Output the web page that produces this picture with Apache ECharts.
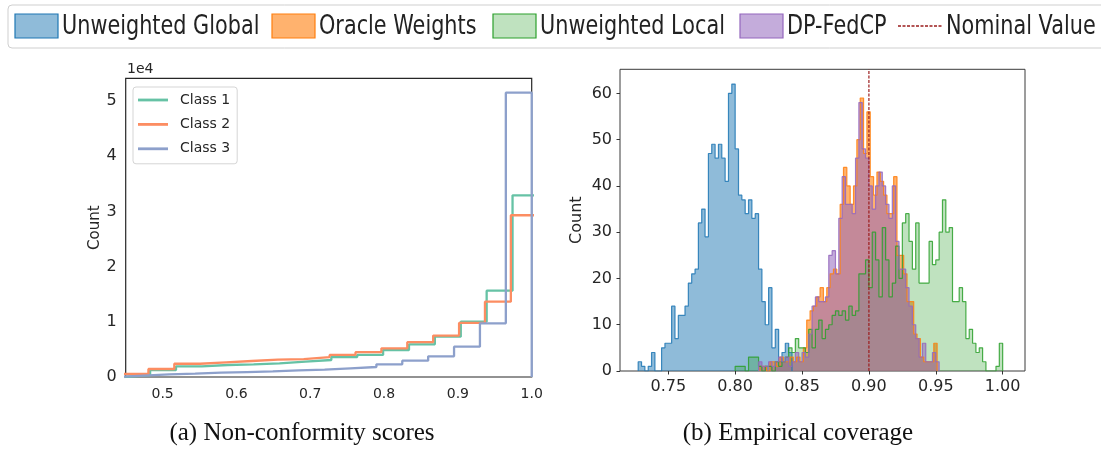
<!DOCTYPE html>
<html>
<head>
<meta charset="utf-8">
<script src="https://cdn.jsdelivr.net/npm/echarts@6/dist/echarts.min.js"></script>
<style>
html,body{margin:0;padding:0;background:#fff;}
#chart{width:1101px;height:457px;}
</style>
</head>
<body>
<div id="chart"></div>
<script>
// ---------- Panel (a): non-conformity scores (step histograms) ----------
const scoreBinWidth = 0.03507;
const class1Start = 0.4480;
const class2Start = 0.4457;
const class3Start = 0.4389;
const class1Counts = [360,1270,1930,2170,2300,2480,2780,3080,3620,3990,4890,5920,7300,10020,15640,32900];
const class2Counts = [540,1450,2400,2650,2900,3150,3250,3600,4000,4500,5200,6300,7500,9800,13650,29300];
const class3Counts = [240,480,600,780,900,1030,1200,1330,1570,1810,2300,2960,3740,5500,9720,51500];
const scoreTicks = [0.5,0.6,0.7,0.8,0.9,1.0];
const scoreCountTicks = [0,10000,20000,30000,40000,50000];
const classNames = ['Class 1','Class 2','Class 3'];

// ---------- Panel (b): empirical coverage (filled step histograms) ----------
const covBinWidth = 0.0025;
const globalStart = 0.7275;
const globalCounts = [2,1,0,1,4,0,0,5,6,6,14,7,12,12,14,19,21,22,32,35,29,47,49,46,49,46,41,60,62,48,38,37,34,37,33,34,22,15,10,18,5,9,2,4,6,4];
const oracleStart = 0.8185;
const oracleCounts = [1,1,0,2,2,1,3,2,2,3,2,3,2,5,11,13,14,16,18,15,18,21,22,21,36,44,40,36,40,50,59,47,56,42,38,43,41,38,34,34,42,25,25,21,15,15,8,7,3,2,2,2,6];
const localStart = 0.8000;
const localCounts = [1,1,1,0,3,3,3,1,0,1,1,0,2,1,2,3,5,4,7,5,
  5,4,9,5,9,11,7,9,10,12,
  13,12,13,11,14,12,13,21,21,24,
  18,30,24,16,31,24,16,19,27,20,
  32,34,28,22,32,19,19,19,28,23,
  24,30,37,30,31,15,15,18,15,7,
  9,6,4,5,2,0,0,0,1,6];
const dpStart = 0.8175;
const dpCounts = [2,1,1,2,1,2,3,2,3,1,2,4,2,4,3,8,14,16,15,15,16,25,26,21,33,42,36,36,34,46,58,48,46,40,35,40,43,40,36,33,40,28,22,22,18,14,10,7,3,6,2,2,4,2];
const nominalValue = 0.9;
const coverageTicks = [0.75,0.80,0.85,0.90,0.95,1.00];
const coverageCountTicks = [0,10,20,30,40,50,60];
const coverageNames = ['Unweighted Global','Oracle Weights','Unweighted Local','DP-FedCP','Nominal Value'];

// build step outline points from bin start, width and counts
function stepPoints(start, width, counts) {
  const pts = [[start, 0]];
  counts.forEach((c, i) => {
    const x0 = start + i * width;
    pts.push([x0, c], [x0 + width, c]);
  });
  pts.push([start + counts.length * width, 0]);
  return pts;
}

const FONT = 'DejaVu Sans';
const TXT = '#262626';
const setColors = ['#66c2a5','#fc8d62','#8da0cb'];
const tabColors = ['#1f77b4','#ff7f0e','#2ca02c','#9467bd'];
const fillAlpha = [0.5, 0.6, 0.3, 0.55];

const chart = echarts.init(document.getElementById('chart'), null, {renderer:'canvas'});

const leftSeries = [
  [class1Start, class1Counts],
  [class2Start, class2Counts],
  [class3Start, class3Counts]
].map((d, i) => ({
  name: classNames[i], type: 'line', xAxisIndex: 0, yAxisIndex: 0,
  data: stepPoints(d[0], scoreBinWidth, d[1]), symbol: 'none', clip: true,
  lineStyle: {color: setColors[i], width: 2.3}, itemStyle: {color: setColors[i]}
}));

const rightSeries = [
  [globalStart, globalCounts],
  [oracleStart, oracleCounts],
  [localStart, localCounts],
  [dpStart, dpCounts]
].map((d, i) => ({
  name: coverageNames[i], type: 'line', xAxisIndex: 1, yAxisIndex: 1,
  data: stepPoints(d[0], covBinWidth, d[1]), symbol: 'none', clip: true,
  lineStyle: {color: tabColors[i], width: 1.2, opacity: 0.85},
  areaStyle: {color: tabColors[i], opacity: fillAlpha[i]},
  itemStyle: {color: tabColors[i]}
}));

const nominalSeries = {
  name: 'Nominal Value', type: 'line', xAxisIndex: 1, yAxisIndex: 1,
  data: [[nominalValue, 0], [nominalValue, 65.2]], symbol: 'none', z: 5,
  lineStyle: {color: '#9b1c1c', width: 1.2, type: [3, 1.5]}
};

// top legend drawn as graphic (squeezed horizontally like the reference)
const legendItems = [
  {patch: 15, text: 62},
  {patch: 272, text: 319},
  {patch: 493, text: 540},
  {patch: 740, text: 787}
];
const graphics = [
  {type:'rect', shape:{x:8, y:5, width:1100, height:43, r:4}, style:{fill:'#fff', stroke:'#cfcfcf', lineWidth:1}, z:10}
];
legendItems.forEach((it, i) => {
  graphics.push({type:'rect', shape:{x:it.patch, y:14, width:43, height:24}, style:{fill: tabColors[i], opacity: fillAlpha[i]}, z:11});
  graphics.push({type:'rect', shape:{x:it.patch, y:14, width:43, height:24}, style:{fill:'none', stroke: tabColors[i], lineWidth:1.2}, z:12});
  graphics.push({type:'text', x: it.text, y: 27, scaleX: 0.77, z:12,
    style:{text: coverageNames[i], x:0, y:0, font:'27px "DejaVu Sans"', fill:'#222', textVerticalAlign:'middle', textAlign:'left'}});
});
graphics.push({type:'line', shape:{x1:898, y1:26, x2:942, y2:26}, style:{stroke:'#9b1c1c', lineWidth:1.5, lineDash:[3,1.5]}, z:12});
graphics.push({type:'text', x: 946, y: 27, scaleX: 0.77, z:12,
  style:{text: coverageNames[4], x:0, y:0, font:'27px "DejaVu Sans"', fill:'#222', textVerticalAlign:'middle', textAlign:'left'}});
// exponent label and captions
graphics.push({type:'text', x:127, y:69, style:{text:'1e4', font:'14px "DejaVu Sans"', fill:TXT, textVerticalAlign:'middle'}});
graphics.push({type:'text', x:302, y:433, style:{text:'(a) Non-conformity scores', font:'25px "Liberation Serif"', fill:'#111', textAlign:'center', textVerticalAlign:'middle'}});
graphics.push({type:'text', x:798, y:433, style:{text:'(b) Empirical coverage', font:'25px "Liberation Serif"', fill:'#111', textAlign:'center', textVerticalAlign:'middle'}});

const option = {
  animation: false,
  backgroundColor: '#fff',
  textStyle: {fontFamily: FONT},
  grid: [
    {left:125.7, top:78.3, width:406, height:298.7, show:true, borderColor:'#262626', borderWidth:1.2, backgroundColor:'transparent'},
    {left:620, top:69.3, width:405, height:301.7, show:true, borderColor:'#3a3a3a', borderWidth:1, backgroundColor:'transparent'}
  ],
  legend: {
    data: classNames, orient:'vertical', left:133, top:87,
    padding:[5,7,7,5], itemWidth:30, itemHeight:2.8, itemGap:8.4, icon:'rect',
    textStyle:{fontSize:14, color:TXT, fontFamily:FONT, lineHeight:16, padding:[0,0,0,7]},
    borderColor:'#d5d5d5', borderWidth:1, borderRadius:3, backgroundColor:'#fff'
  },
  xAxis: [
    {type:'value', gridIndex:0, min:0.45, max:1.0, splitLine:{show:false},
     axisLine:{show:false}, axisTick:{show:false},
     axisLabel:{customValues: scoreTicks, fontSize:14, color:TXT, margin:10, formatter:v => v.toFixed(1)}},
    {type:'value', gridIndex:1, min:0.7139, max:1.0167, splitLine:{show:false},
     axisLine:{show:false},
     axisTick:{show:true, customValues: coverageTicks, length:3.5, lineStyle:{color:'#333'}},
     axisLabel:{customValues: coverageTicks, fontSize:16, color:TXT, margin:8, formatter:v => v.toFixed(2)}}
  ],
  yAxis: [
    {type:'value', gridIndex:0, min:0, max:54100, splitLine:{show:false},
     axisLine:{show:false}, axisTick:{show:false},
     axisLabel:{customValues: scoreCountTicks, fontSize:16, color:TXT, margin:9, formatter:v => String(v/10000)},
     name:'Count', nameLocation:'middle', nameGap:22, nameTextStyle:{fontSize:15, color:TXT}},
    {type:'value', gridIndex:1, min:0, max:65.2, splitLine:{show:false},
     axisLine:{show:false},
     axisTick:{show:true, customValues: coverageCountTicks, length:3.5, lineStyle:{color:'#333'}},
     axisLabel:{customValues: coverageCountTicks, fontSize:16, color:TXT, margin:8},
     name:'Count', nameLocation:'middle', nameGap:35, nameTextStyle:{fontSize:16, color:TXT}}
  ],
  graphic: graphics,
  series: [...leftSeries, ...rightSeries, nominalSeries]
};
chart.setOption(option);
</script>
</body>
</html>
